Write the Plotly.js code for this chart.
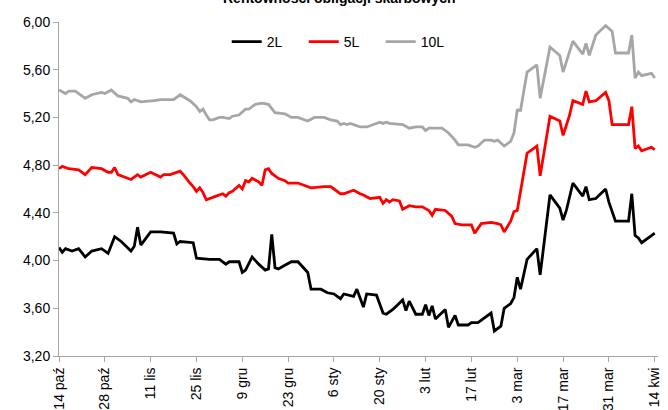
<!DOCTYPE html>
<html>
<head>
<meta charset="utf-8">
<script src="https://cdn.plot.ly/plotly-3.0.1.min.js"></script>
<style>html,body{margin:0;padding:0;background:#fff;}#chart{width:668px;height:410px;}</style>
</head>
<body>
<div id="chart"></div>
<script>
const dates2 = ['2013-10-14','2013-10-15','2013-10-16','2013-10-18','2013-10-20','2013-10-22','2013-10-24','2013-10-27','2013-10-29','2013-10-31','2013-11-02','2013-11-05','2013-11-06','2013-11-07','2013-11-08','2013-11-11','2013-11-14','2013-11-18','2013-11-19','2013-11-20','2013-11-24','2013-11-25','2013-11-29','2013-12-02','2013-12-04','2013-12-05','2013-12-08','2013-12-09','2013-12-10','2013-12-12','2013-12-14','2013-12-16','2013-12-17','2013-12-18','2013-12-19','2013-12-20','2013-12-22','2013-12-24','2013-12-26','2013-12-29','2013-12-30','2014-01-02','2014-01-04','2014-01-06','2014-01-08','2014-01-09','2014-01-12','2014-01-13','2014-01-15','2014-01-16','2014-01-19','2014-01-21','2014-01-22','2014-01-24','2014-01-27','2014-01-28','2014-01-29','2014-01-31','2014-02-02','2014-02-03','2014-02-04','2014-02-05','2014-02-06','2014-02-09','2014-02-10','2014-02-12','2014-02-13','2014-02-16','2014-02-17','2014-02-19','2014-02-23','2014-02-24','2014-02-26','2014-02-27','2014-03-01','2014-03-02','2014-03-03','2014-03-04','2014-03-06','2014-03-09','2014-03-10','2014-03-13','2014-03-16','2014-03-17','2014-03-18','2014-03-20','2014-03-23','2014-03-24','2014-03-25','2014-03-27','2014-03-30','2014-03-31','2014-04-02','2014-04-06','2014-04-07','2014-04-08','2014-04-09','2014-04-10','2014-04-13','2014-04-14'];
const values2 = [4.11,4.07,4.10,4.08,4.10,4.03,4.08,4.10,4.06,4.20,4.16,4.08,4.12,4.28,4.13,4.24,4.24,4.23,4.14,4.16,4.15,4.02,4.01,4.01,3.97,3.99,3.99,3.90,3.92,4.03,3.97,3.92,3.93,4.22,3.94,3.93,3.96,3.99,3.99,3.90,3.76,3.76,3.73,3.72,3.68,3.72,3.70,3.76,3.61,3.72,3.71,3.56,3.55,3.59,3.67,3.58,3.66,3.55,3.55,3.63,3.54,3.62,3.51,3.59,3.44,3.54,3.46,3.46,3.48,3.48,3.56,3.41,3.45,3.60,3.64,3.69,3.86,3.76,4.01,4.10,3.88,4.55,4.44,4.34,4.42,4.65,4.54,4.62,4.51,4.52,4.60,4.49,4.33,4.33,4.56,4.21,4.19,4.15,4.21,4.23];

const dates5 = ['2013-10-14','2013-10-15','2013-10-17','2013-10-20','2013-10-22','2013-10-24','2013-10-27','2013-10-29','2013-10-30','2013-10-31','2013-11-01','2013-11-05','2013-11-07','2013-11-08','2013-11-11','2013-11-14','2013-11-15','2013-11-17','2013-11-20','2013-11-21','2013-11-23','2013-11-24','2013-11-25','2013-11-26','2013-11-27','2013-11-28','2013-12-01','2013-12-03','2013-12-04','2013-12-05','2013-12-06','2013-12-08','2013-12-09','2013-12-10','2013-12-11','2013-12-12','2013-12-14','2013-12-15','2013-12-16','2013-12-17','2013-12-18','2013-12-20','2013-12-22','2013-12-23','2013-12-26','2013-12-28','2013-12-30','2014-01-03','2014-01-05','2014-01-06','2014-01-08','2014-01-09','2014-01-12','2014-01-14','2014-01-15','2014-01-17','2014-01-20','2014-01-21','2014-01-22','2014-01-23','2014-01-24','2014-01-26','2014-01-27','2014-01-29','2014-01-31','2014-02-02','2014-02-04','2014-02-05','2014-02-06','2014-02-09','2014-02-11','2014-02-12','2014-02-14','2014-02-17','2014-02-18','2014-02-20','2014-02-23','2014-02-25','2014-02-26','2014-02-27','2014-03-01','2014-03-02','2014-03-03','2014-03-06','2014-03-09','2014-03-10','2014-03-13','2014-03-16','2014-03-17','2014-03-19','2014-03-20','2014-03-23','2014-03-24','2014-03-25','2014-03-27','2014-03-30','2014-03-31','2014-04-01','2014-04-06','2014-04-07','2014-04-08','2014-04-09','2014-04-10','2014-04-13','2014-04-14'];
const values5 = [4.77,4.79,4.77,4.76,4.72,4.78,4.77,4.74,4.74,4.78,4.72,4.68,4.72,4.70,4.74,4.70,4.72,4.72,4.75,4.72,4.65,4.62,4.58,4.61,4.57,4.51,4.54,4.56,4.54,4.57,4.58,4.63,4.60,4.67,4.66,4.69,4.66,4.63,4.76,4.77,4.73,4.69,4.67,4.65,4.65,4.63,4.61,4.62,4.62,4.60,4.56,4.56,4.59,4.56,4.55,4.52,4.53,4.48,4.51,4.49,4.51,4.50,4.43,4.46,4.45,4.45,4.42,4.38,4.43,4.42,4.37,4.31,4.30,4.30,4.23,4.31,4.32,4.31,4.30,4.24,4.33,4.41,4.42,4.90,4.96,4.71,5.21,5.17,5.05,5.22,5.34,5.31,5.42,5.33,5.34,5.41,5.34,5.14,5.14,5.29,4.94,4.96,4.92,4.95,4.93];

const dates10 = ['2013-10-14','2013-10-16','2013-10-17','2013-10-19','2013-10-22','2013-10-24','2013-10-27','2013-10-28','2013-10-30','2013-11-01','2013-11-04','2013-11-05','2013-11-06','2013-11-08','2013-11-12','2013-11-14','2013-11-18','2013-11-19','2013-11-20','2013-11-23','2013-11-25','2013-11-26','2013-11-27','2013-11-28','2013-11-29','2013-11-30','2013-12-02','2013-12-03','2013-12-05','2013-12-06','2013-12-08','2013-12-10','2013-12-11','2013-12-13','2013-12-15','2013-12-17','2013-12-19','2013-12-22','2013-12-24','2013-12-26','2013-12-29','2013-12-31','2014-01-03','2014-01-05','2014-01-07','2014-01-08','2014-01-09','2014-01-10','2014-01-11','2014-01-12','2014-01-14','2014-01-16','2014-01-18','2014-01-20','2014-01-21','2014-01-22','2014-01-23','2014-01-27','2014-01-29','2014-01-31','2014-02-02','2014-02-03','2014-02-04','2014-02-08','2014-02-10','2014-02-12','2014-02-13','2014-02-16','2014-02-18','2014-02-19','2014-02-21','2014-02-23','2014-02-24','2014-02-25','2014-02-27','2014-03-01','2014-03-02','2014-03-03','2014-03-04','2014-03-06','2014-03-09','2014-03-10','2014-03-13','2014-03-16','2014-03-17','2014-03-20','2014-03-23','2014-03-24','2014-03-25','2014-03-27','2014-03-30','2014-04-01','2014-04-02','2014-04-06','2014-04-07','2014-04-08','2014-04-09','2014-04-10','2014-04-13','2014-04-14'];
const values10 = [5.43,5.40,5.42,5.42,5.36,5.39,5.41,5.40,5.43,5.38,5.36,5.33,5.35,5.33,5.34,5.35,5.35,5.37,5.39,5.34,5.29,5.25,5.27,5.22,5.18,5.18,5.20,5.20,5.19,5.21,5.22,5.27,5.27,5.31,5.32,5.31,5.24,5.23,5.20,5.20,5.17,5.20,5.20,5.18,5.17,5.14,5.15,5.14,5.15,5.14,5.12,5.12,5.14,5.16,5.15,5.16,5.15,5.14,5.11,5.12,5.12,5.09,5.11,5.11,5.07,5.01,4.97,4.97,4.95,4.96,5.01,5.01,5.00,5.01,4.96,5.00,5.07,5.26,5.26,5.58,5.64,5.36,5.79,5.72,5.58,5.84,5.73,5.82,5.72,5.89,5.97,5.92,5.74,5.74,5.89,5.53,5.58,5.55,5.57,5.53];

const tickDates = ['2013-10-14','2013-10-28','2013-11-11','2013-11-25','2013-12-09','2013-12-23','2014-01-06','2014-01-20','2014-02-03','2014-02-17','2014-03-03','2014-03-17','2014-03-31','2014-04-14'];
const tickLabels = ['14 paź','28 paź','11 lis','25 lis','9 gru','23 gru','6 sty','20 sty','3 lut','17 lut','3 mar','17 mar','31 mar','14 kwi'];
const yTicks = [3.2,3.6,4.0,4.4,4.8,5.2,5.6,6.0];
const yLabels = ['3,20','3,60','4,00','4,40','4,80','5,20','5,60','6,00'];
const chartTitle = 'Rentowności obligacji skarbowych';

const FONT = 'Liberation Sans, Arial, sans-serif';
const traces = [
  {x: dates2, y: values2, name: '2L', mode: 'lines', line: {color: '#000000', width: 2.8}},
  {x: dates5, y: values5, name: '5L', mode: 'lines', line: {color: '#ff0000', width: 2.8}},
  {x: dates10, y: values10, name: '10L', mode: 'lines', line: {color: '#a6a6a6', width: 2.8}}
];
const layout = {
  width: 668, height: 410,
  margin: {l: 59, r: 10, t: 22, b: 54},
  paper_bgcolor: '#ffffff', plot_bgcolor: '#ffffff',
  font: {family: FONT, size: 14, color: '#000000'},
  annotations: [{
    text: '<b>' + chartTitle + '</b>', xref: 'paper', yref: 'paper',
    x: 0.469, y: 1.072, xanchor: 'center', yanchor: 'middle', showarrow: false,
    font: {family: FONT, size: 14, color: '#000'}
  }],
  showlegend: true,
  legend: {orientation: 'h', x: 0.28, xanchor: 'left', y: 0.94, yanchor: 'middle', font: {family: FONT, size: 14}, entrywidth: 32, entrywidthmode: 'pixels', bgcolor: 'rgba(0,0,0,0)', traceorder: 'normal'},
  xaxis: {
    type: 'date', range: ['2013-10-14', '2014-04-15'],
    tickvals: tickDates, ticktext: tickLabels, tickangle: -90,
    showgrid: false, zeroline: false, showline: true, linecolor: '#a6a6a6', linewidth: 1,
    ticks: 'outside', ticklen: 5, tickcolor: '#a6a6a6', tickfont: {family: FONT, size: 14}
  },
  yaxis: {
    range: [3.2, 6.0], tickvals: yTicks, ticktext: yLabels,
    showgrid: false, zeroline: false, showline: true, linecolor: '#a6a6a6', linewidth: 1,
    ticks: 'outside', ticklen: 5, tickcolor: '#a6a6a6', tickfont: {family: FONT, size: 14}
  }
};
Plotly.newPlot('chart', traces, layout, {displayModeBar: false, staticPlot: true});
</script>
</body>
</html>
